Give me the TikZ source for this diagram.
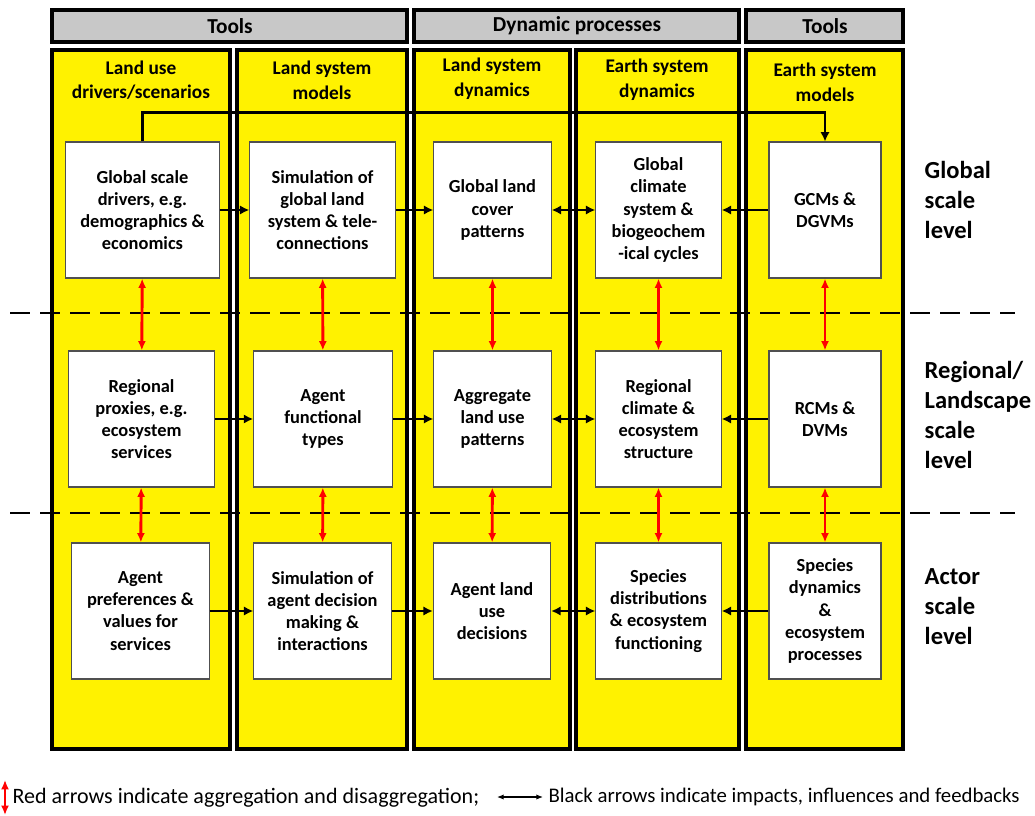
\documentclass[tikz,border=0pt]{standalone}
\usepackage{fontspec}
\setmainfont{Carlito}
\usetikzlibrary{arrows.meta,positioning}
\definecolor{headgray}{RGB}{200,200,200}
\definecolor{boxline}{RGB}{80,80,80}
\tikzset{
    colbox/.style={draw, line width=2.6pt, fill=yellow},
    headbox/.style={draw, line width=2.6pt, fill=headgray},
    bartext/.style={font=\bfseries\fontsize{16}{19}\selectfont},
    headtext/.style={font=\bfseries\fontsize{14.5}{18.5}\selectfont, align=center},
    cell/.style={draw=boxline, line width=0.8pt, fill=white, minimum height=102pt, align=center, inner sep=1pt, font=\bfseries\fontsize{13.8}{16.6}\selectfont},
    impact/.style={-{Latex[length=7pt, width=7pt]}, line width=2.2pt},
    feedback/.style={{Latex[length=7pt, width=7pt]}-{Latex[length=7pt, width=7pt]}, line width=2.2pt},
    aggr/.style={{Latex[length=7pt, width=6pt]}-{Latex[length=7pt, width=6pt]}, line width=2.2pt, red},
    scaleline/.style={dashed, dash pattern=on 15pt off 7.5pt, line width=2.2pt},
    level/.style={anchor=west, align=left, font=\bfseries\fontsize{18.4}{22.5}\selectfont},
    legend/.style={font=\fontsize{16.5}{19}\selectfont, inner sep=1pt}
}

\begin{document}
\begin{tikzpicture}[x=0.75pt, y=-0.75pt]
            \useasboundingbox (0,0) rectangle (1035,816);

            % Columns and header bars
            \foreach \xa/\xb in {52/230, 237/407, 414/570, 576/739, 746/903}
                \draw[colbox] (\xa,50) rectangle (\xb,749);
            \draw[headbox] (52,10) rectangle (407,42);
            \draw[headbox] (414,10) rectangle (739,42);
            \draw[headbox] (746,10) rectangle (903,42);
            \node[bartext] (toolsL) at (230,26) {Tools};
            \node[bartext] (dynproc) at (577,26) {Dynamic processes};
            \node[bartext] (toolsR) at (825,26) {Tools};

            % Column titles
            \node[headtext] (tdriv) at (141,80) {Land use\\drivers/scenarios};
            \node[headtext] (tlsm) at (322,80) {Land system\\models};
            \node[headtext] (tlsd) at (492,79) {Land system\\dynamics};
            \node[headtext] (tesd) at (657,80) {Earth system\\dynamics};
            \node[headtext] (tesm) at (825,82) {Earth system\\models};

            % Scale boundaries
            \draw[scaleline] (10,313) -- (1015,313);
            \draw[scaleline] (10,513) -- (1015,513);

            % Global scale
            \node[cell, minimum width=115pt] (glob1) at (142.5,210) {Global scale\\drivers, e.g.\\demographics \&\\economics};
            \node[cell, minimum width=109pt] (glob2) at (322.5,210) {Simulation of\\global land\\system \& tele-\\connections};
            \node[cell, minimum width=88pt] (glob3) at (492.5,210) {Global land\\cover\\patterns};
            \node[cell, minimum width=94pt] (glob4) at (658.5,210) {Global\\climate\\system \&\\biogeochem\\-ical cycles};
            \node[cell, minimum width=84pt] (glob5) at (825,210) {GCMs \&\\DGVMs};

            % Regional/landscape scale
            \node[cell, minimum width=109pt] (reg1) at (141.5,419) {Regional\\proxies, e.g.\\ecosystem\\services};
            \node[cell, minimum width=104pt] (reg2) at (323,419) {Agent\\functional\\types};
            \node[cell, minimum width=88pt] (reg3) at (492.5,419) {Aggregate\\land use\\patterns};
            \node[cell, minimum width=94pt] (reg4) at (658.5,419) {Regional\\climate \&\\ecosystem\\structure};
            \node[cell, minimum width=84pt] (reg5) at (825,419) {RCMs \&\\DVMs};

            % Actor scale
            \node[cell, minimum width=103pt] (act1) at (140.5,611) {Agent\\preferences \&\\values for\\services};
            \node[cell, minimum width=103pt] (act2) at (322.5,611) {Simulation of\\agent decision\\making \&\\interactions};
            \node[cell, minimum width=88pt] (act3) at (492,611) {Agent land\\use\\decisions};
            \node[cell, minimum width=94pt] (act4) at (658.5,611) {Species\\distributions\\\& ecosystem\\functioning};
            \node[cell, minimum width=84pt] (act5) at (825,611) {Species\\dynamics\\\&\\ecosystem\\processes};

            % Impacts and feedbacks along each level
            \foreach \r in {glob,reg,act} {
                \draw[impact] (\r1) -- (\r2);
                \draw[impact] (\r2) -- (\r3);
                \draw[feedback] (\r3) -- (\r4);
                \draw[impact] (\r5) -- (\r4);
            }
            \draw[impact, line width=1.6pt] (glob1.north) -- ++(0,-29) -| (glob5.north);

            % Aggregation and disaggregation between levels
            \foreach \c in {1,...,5} {
                \draw[aggr] (glob\c) -- (reg\c);
                \draw[aggr] (reg\c) -- (act\c);
            }

            % Level names
            \node[level] (lglob) at (920,200) {Global\\scale\\level};
            \node[level] (lreg) at (920,415) {Regional/\\Landscape\\scale\\level};
            \node[level] (lact) at (920,607) {Actor\\scale\\level};

            % Legend
            \coordinate (redtop) at (5,780);
            \coordinate (redbot) at (5,815);
            \draw[aggr, line width=1.8pt] (redbot) -- (redtop);
            \node[legend, anchor=west] (redtxt) at (11,798) {Red arrows indicate aggregation and disaggregation;};
            \coordinate (blkL) at (497,797);
            \coordinate (blkR) at (543,797);
            \draw[{Latex[length=5pt, width=4pt]}-{Latex[length=5pt, width=4pt]}, line width=0.9pt] (blkL) -- (blkR);
            \node[legend, font=\fontsize{15.6}{19}\selectfont, right=3pt of blkR] (blktxt) {Black arrows indicate impacts, influences and feedbacks};
        \end{tikzpicture}
\end{document}
